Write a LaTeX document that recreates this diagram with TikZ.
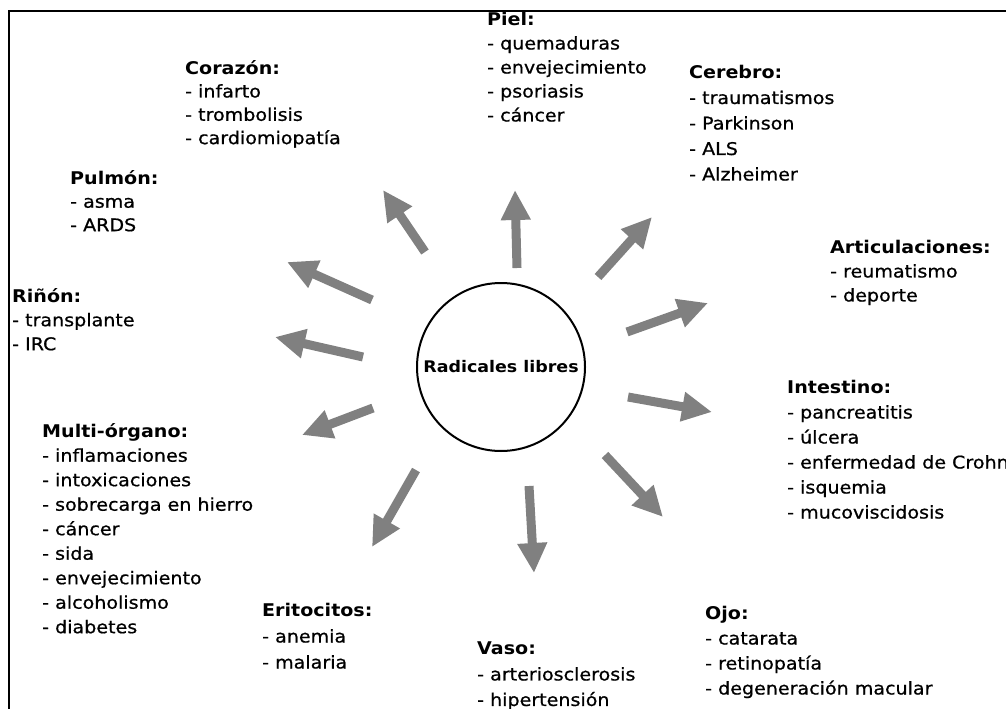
\documentclass[tikz,border=0pt]{standalone}
\usepackage{fontspec}
\setmainfont{DejaVu Sans}[FakeStretch=1.09, UprightFeatures={FakeBold=0.8}]
\usetikzlibrary{arrows.meta}

\begin{document}
\begin{tikzpicture}[x=1pt, y=-1pt, organ/.style={anchor=north west, align=left, inner sep=0pt, font=\fontsize{17.5}{#1}\selectfont, execute at begin node={\rule{0pt}{17pt}}}, organ/.default=25, ray/.style={draw=gray, line width=9pt, -{Triangle[width=28pt,length=30pt]}}]
\useasboundingbox (0,0) rectangle (1006,709);
\clip (0,0) rectangle (1006,709);
\draw[line width=2pt] (9,11) rectangle (1020,720);
\node[circle, draw, line width=2pt, minimum size=168pt, inner sep=0pt, font=\fontsize{16}{20}\selectfont\bfseries] (rl) at (501,367) {Radicales libres};
\begin{scope}
\node[organ=24] (piel) at (487,12) {\textbf{Piel:}\\- quemaduras\\- envejecimiento\\- psoriasis\\- cáncer};
\node[organ=23.3] (cor) at (185,60) {\textbf{Corazón:}\\- infarto\\- trombolisis\\- cardiomiopatía};
\node[organ=25.5] (cer) at (689,65) {\textbf{Cerebro:}\\- traumatismos\\- Parkinson\\- ALS\\- Alzheimer};
\node[organ=23.5] (pul) at (70,170) {\textbf{Pulmón:}\\- asma\\- ARDS};
\node[organ=24] (art) at (830,240) {\textbf{Articulaciones:}\\- reumatismo\\- deporte};
\node[organ=24] (rin) at (12,288) {\textbf{Riñón:}\\- transplante\\- IRC};
\node[organ=25] (int) at (787,380) {\textbf{Intestino:}\\- pancreatitis\\- úlcera\\- enfermedad de Crohn\\- isquemia\\- mucoviscidosis};
\node[organ=24.5] (mul) at (42,423) {\textbf{Multi-órgano:}\\- inflamaciones\\- intoxicaciones\\- sobrecarga en hierro\\- cáncer\\- sida\\- envejecimiento\\- alcoholismo\\- diabetes};
\node[organ=26] (eri) at (262,603) {\textbf{Eritocitos:}\\- anemia\\- malaria};
\node[organ=25.5] (vas) at (477,642) {\textbf{Vaso:}\\- arteriosclerosis\\- hipertensión};
\node[organ=25] (ojo) at (705,606) {\textbf{Ojo:}\\- catarata\\- retinopatía\\- degeneración macular};
\end{scope}
\begin{scope}
\coordinate (piel-s) at (517,268); \coordinate (piel-t) at (515,190);
\coordinate (cor-s) at (425,252); \coordinate (cor-t) at (383,190);
\coordinate (pul-s) at (372,300); \coordinate (pul-t) at (287,262);
\coordinate (rin-s) at (363,357); \coordinate (rin-t) at (275,337);
\coordinate (mul-s) at (373,408); \coordinate (mul-t) at (302,435);
\coordinate (eri-s) at (416,470); \coordinate (eri-t) at (372,547);
\coordinate (vas-s) at (529,486); \coordinate (vas-t) at (534,573);
\coordinate (ojo-s) at (605,455); \coordinate (ojo-t) at (663,517);
\coordinate (int-s) at (628,397); \coordinate (int-t) at (712,412);
\coordinate (art-s) at (627,332); \coordinate (art-t) at (708,303);
\coordinate (cer-s) at (598,277); \coordinate (cer-t) at (652,217);
\draw[ray] (piel-s) -- (piel-t);
\draw[ray] (cor-s) -- (cor-t);
\draw[ray] (pul-s) -- (pul-t);
\draw[ray] (rin-s) -- (rin-t);
\draw[ray] (mul-s) -- (mul-t);
\draw[ray] (eri-s) -- (eri-t);
\draw[ray] (vas-s) -- (vas-t);
\draw[ray] (ojo-s) -- (ojo-t);
\draw[ray] (int-s) -- (int-t);
\draw[ray] (art-s) -- (art-t);
\draw[ray] (cer-s) -- (cer-t);
\end{scope}
\end{tikzpicture}
\end{document}
